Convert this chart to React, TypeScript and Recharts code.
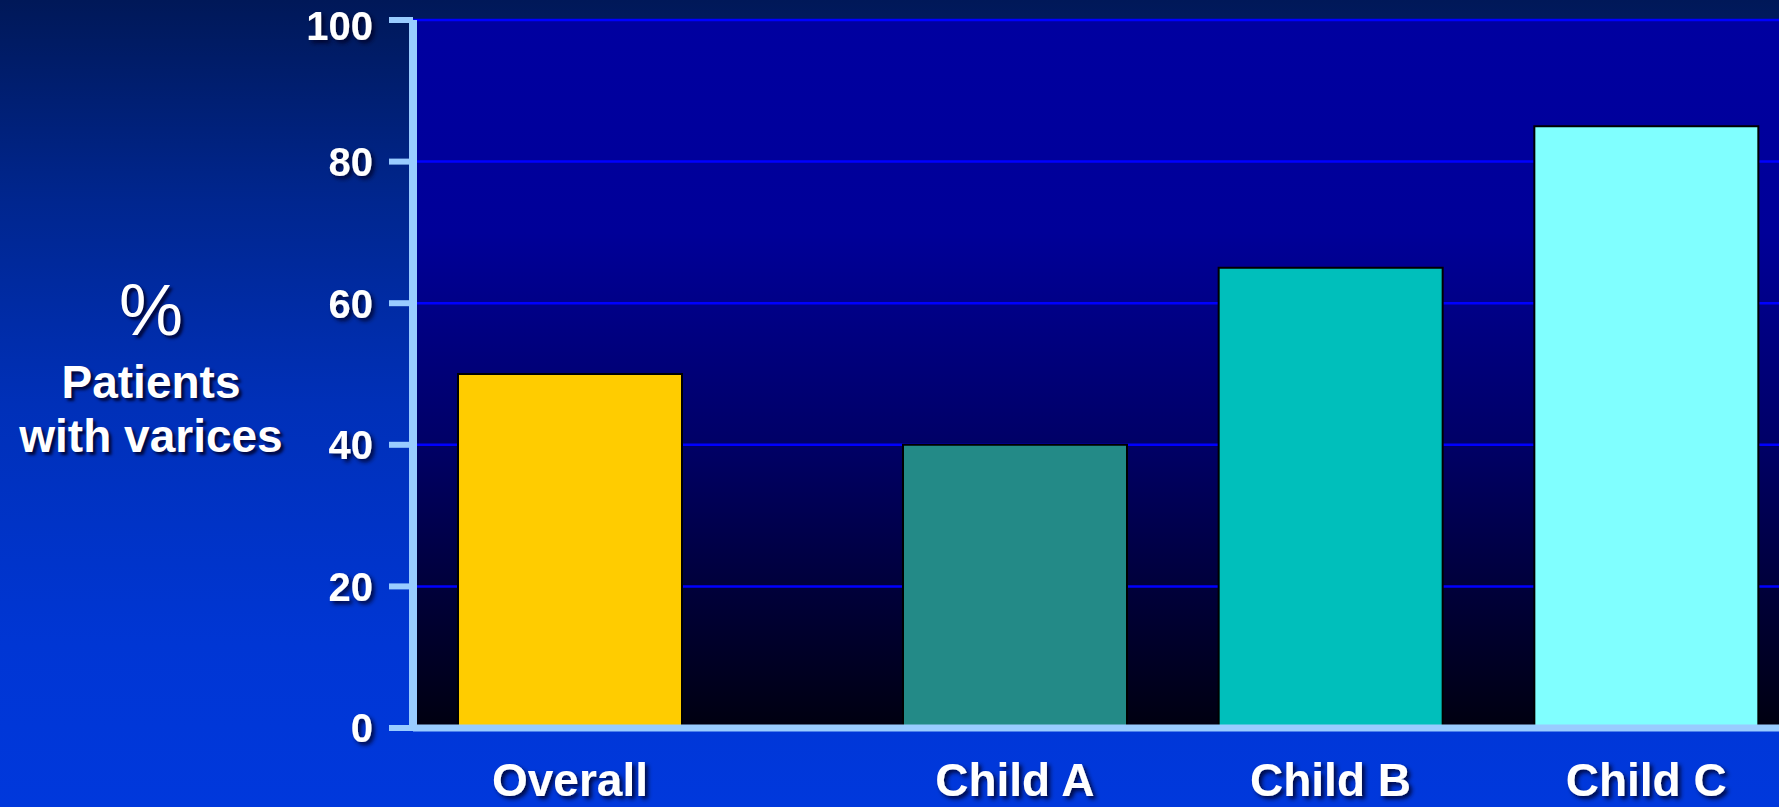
import React from 'react';
import { BarChart, Bar, XAxis, YAxis, CartesianGrid, Cell } from 'recharts';

// values
const overallLabels = ['Overall'];
const overallValues = [50];
const childClasses = ['Child A', 'Child B', 'Child C'];
const childValues = [40, 65, 85];
const yTicks = [0, 20, 40, 60, 80, 100];

const overallColor = '#ffcc00';
const childColors = ['#238a87', '#00bfbb', '#80ffff'];

const overallData = overallLabels.map((name, i) => ({ name, value: overallValues[i] }));
const childData = childClasses.map((name, i) => ({ name, value: childValues[i] }));

const FONT = '"Liberation Sans", Arial, Helvetica, sans-serif';
const AXIS_BLUE = '#99ccff';

// top label sits a little lower so it stays inside the slide
const YTick = (props: any) => (
  <text
    x={props.x}
    y={Math.max(props.y, 26)}
    dy="0.36em"
    textAnchor="end"
    fill="#ffffff"
    fontSize={40}
    fontWeight="bold"
    fontFamily={FONT}
    filter="url(#txtShadow)"
  >
    {props.payload.value}
  </text>
);

const XTick = (props: any) => (
  <text
    x={props.x}
    y={props.y}
    dy={68}
    textAnchor="middle"
    fill="#ffffff"
    fontSize={46}
    fontWeight="bold"
    fontFamily={FONT}
    filter="url(#txtShadow)"
  >
    {props.payload.value}
  </text>
);

const titleStyle: React.CSSProperties = {
  position: 'absolute',
  left: 1,
  width: 300,
  textAlign: 'center',
  color: '#ffffff',
  fontFamily: FONT,
  lineHeight: 1,
  textShadow: '3px 3px 3px rgba(0,0,40,0.85)',
  whiteSpace: 'nowrap',
};

export default function App() {
  return (
    <div
      style={{
        position: 'relative',
        width: 1779,
        height: 807,
        overflow: 'hidden',
        background:
          'linear-gradient(to bottom, #001858 0%, #00268f 25%, #0030b8 50%, #0036d4 80%, #0038dc 100%)',
      }}
    >
      <style>{'body{margin:0;overflow:hidden}'}</style>
      <svg width={0} height={0} style={{ position: 'absolute' }}>
        <defs>
          <linearGradient id="plotGrad" x1="0" y1="0" x2="0" y2="1">
            <stop offset="0%" stopColor="#0000a0" />
            <stop offset="30%" stopColor="#000098" />
            <stop offset="60%" stopColor="#000066" />
            <stop offset="100%" stopColor="#000010" />
          </linearGradient>
          <filter id="txtShadow" x="-20%" y="-20%" width="150%" height="160%">
            <feDropShadow dx={3} dy={3} stdDeviation={2} floodColor="#000028" floodOpacity={0.85} />
          </filter>
        </defs>
      </svg>

      {/* y axis title */}
      <div style={{ ...titleStyle, top: 274, fontSize: 72, fontWeight: 'normal' }}>%</div>
      <div style={{ ...titleStyle, top: 359, fontSize: 46, fontWeight: 'bold' }}>Patients</div>
      <div style={{ ...titleStyle, top: 413, fontSize: 46, fontWeight: 'bold' }}>with varices</div>

      {/* overall bar + y axis */}
      <div style={{ position: 'absolute', left: 0, top: 0 }}>
        <BarChart width={727} height={807} data={overallData} margin={{ top: 20, right: 0, bottom: 0, left: 0 }}>
          <CartesianGrid vertical={false} stroke="#0000ff" strokeWidth={2.5} fill="url(#plotGrad)" fillOpacity={1} />
          <XAxis
            dataKey="name"
            height={79}
            axisLine={{ stroke: AXIS_BLUE, strokeWidth: 7 }}
            tickLine={false}
            tickSize={0}
            tickMargin={0}
            tick={XTick}
            interval={0}
          />
          <YAxis
            width={413}
            domain={[0, 100]}
            ticks={yTicks}
            axisLine={{ stroke: AXIS_BLUE, strokeWidth: 8 }}
            tickLine={{ stroke: AXIS_BLUE, strokeWidth: 6 }}
            tickSize={24}
            tickMargin={16}
            tick={YTick}
          />
          <Bar dataKey="value" barSize={224} fill={overallColor} stroke="#000000" strokeWidth={2} isAnimationActive={false} />
        </BarChart>
      </div>

      {/* Child-Pugh classes */}
      <div style={{ position: 'absolute', left: 727, top: 0 }}>
        <BarChart width={1077} height={807} data={childData} margin={{ top: 20, right: 0, bottom: 0, left: 0 }}>
          <CartesianGrid vertical={false} stroke="#0000ff" strokeWidth={2.5} fill="url(#plotGrad)" fillOpacity={1} />
          <XAxis
            dataKey="name"
            height={79}
            padding={{ left: 130, right: 0 }}
            axisLine={{ stroke: AXIS_BLUE, strokeWidth: 7 }}
            tickLine={false}
            tickSize={0}
            tickMargin={0}
            tick={XTick}
            interval={0}
          />
          <YAxis hide width={0} domain={[0, 100]} ticks={yTicks} />
          <Bar dataKey="value" barSize={224} stroke="#000000" strokeWidth={2} isAnimationActive={false}>
            {childData.map((d, i) => (
              <Cell key={d.name} fill={childColors[i]} />
            ))}
          </Bar>
        </BarChart>
      </div>
    </div>
  );
}
